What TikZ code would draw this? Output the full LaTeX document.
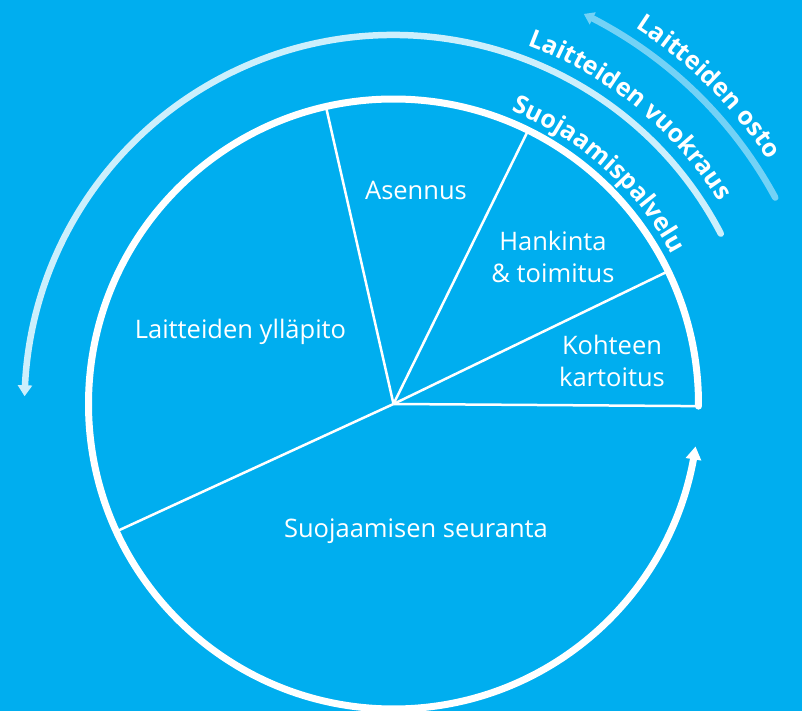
\documentclass[tikz,border=0pt]{standalone}
\usepackage{fontspec}
\setmainfont{Open Sans}
\usetikzlibrary{arrows.meta,bending,decorations.text}
\definecolor{sky}{RGB}{0,174,239}
\newcommand\arcfont{\color{white}\bfseries\fontsize{25}{29}\selectfont}

\begin{document}
\begin{tikzpicture}[x=1pt,y=1pt,
    ring/.style={white,line width=7pt,line cap=round},
    spoke/.style={white,line width=2.5pt},
    lbl/.style={text=white,font=\fontsize{25.5}{32}\selectfont,align=center,inner sep=0pt},
    curved/.style={decorate,decoration={text along path,text align=center,text={#1}}}]
  \fill [sky] (-393.5,-307) rectangle (408.5,404);
  \useasboundingbox (-393.5,-307) rectangle (408.5,404);
  \draw [ring,-{Triangle[width=15pt,length=13pt]}] (-0.4:305) arc [start angle=-0.4, end angle=352, radius=305];
  \draw [ring,white!80!sky,line width=6.5pt,-{Triangle[width=14pt,length=11pt]}] (27.5:369) arc [start angle=27.5, end angle=178.8, radius=369];
  \draw [ring,white!45!sky,line width=6.5pt,-{Triangle[width=13pt,length=10pt]}] (28.4:434) arc [start angle=28.4, end angle=64, radius=434];
  \coordinate (c) at (0,0);
  \coordinate (kartoitus) at (-0.4:305);
  \coordinate (hankinta) at (25.8:305);
  \coordinate (asennus) at (63.8:305);
  \coordinate (yllapito) at (102.8:305);
  \coordinate (seuranta) at (204.7:305);
  \foreach \p in {kartoitus,hankinta,asennus,yllapito,seuranta}
    \draw [spoke] (c) -- (\p);
  \node [lbl] (asennusL) at (22.5,214) {Asennus};
  \node [lbl] (hankintaL) at (159.5,147.5) {Hankinta\\\& toimitus};
  \node [lbl] (kartoitusL) at (218.5,43) {Kohteen\\kartoitus};
  \node [lbl] (yllapitoL) at (-153,72.5) {Laitteiden ylläpito};
  \node [lbl] (seurantaL) at (22.5,-127) {Suojaamisen seuranta};
  \path [curved={|\arcfont|Suojaamispalvelu}] (80:316) arc [start angle=80, end angle=16.4, radius=316];
  \path [curved={|\arcfont|Laitteiden vuokraus}] (85:383) arc [start angle=85, end angle=16.4, radius=383];
  \path [curved={|\arcfont|Laitteiden osto}] (75:447) arc [start angle=75, end angle=15.4, radius=447];
\end{tikzpicture}
\end{document}
